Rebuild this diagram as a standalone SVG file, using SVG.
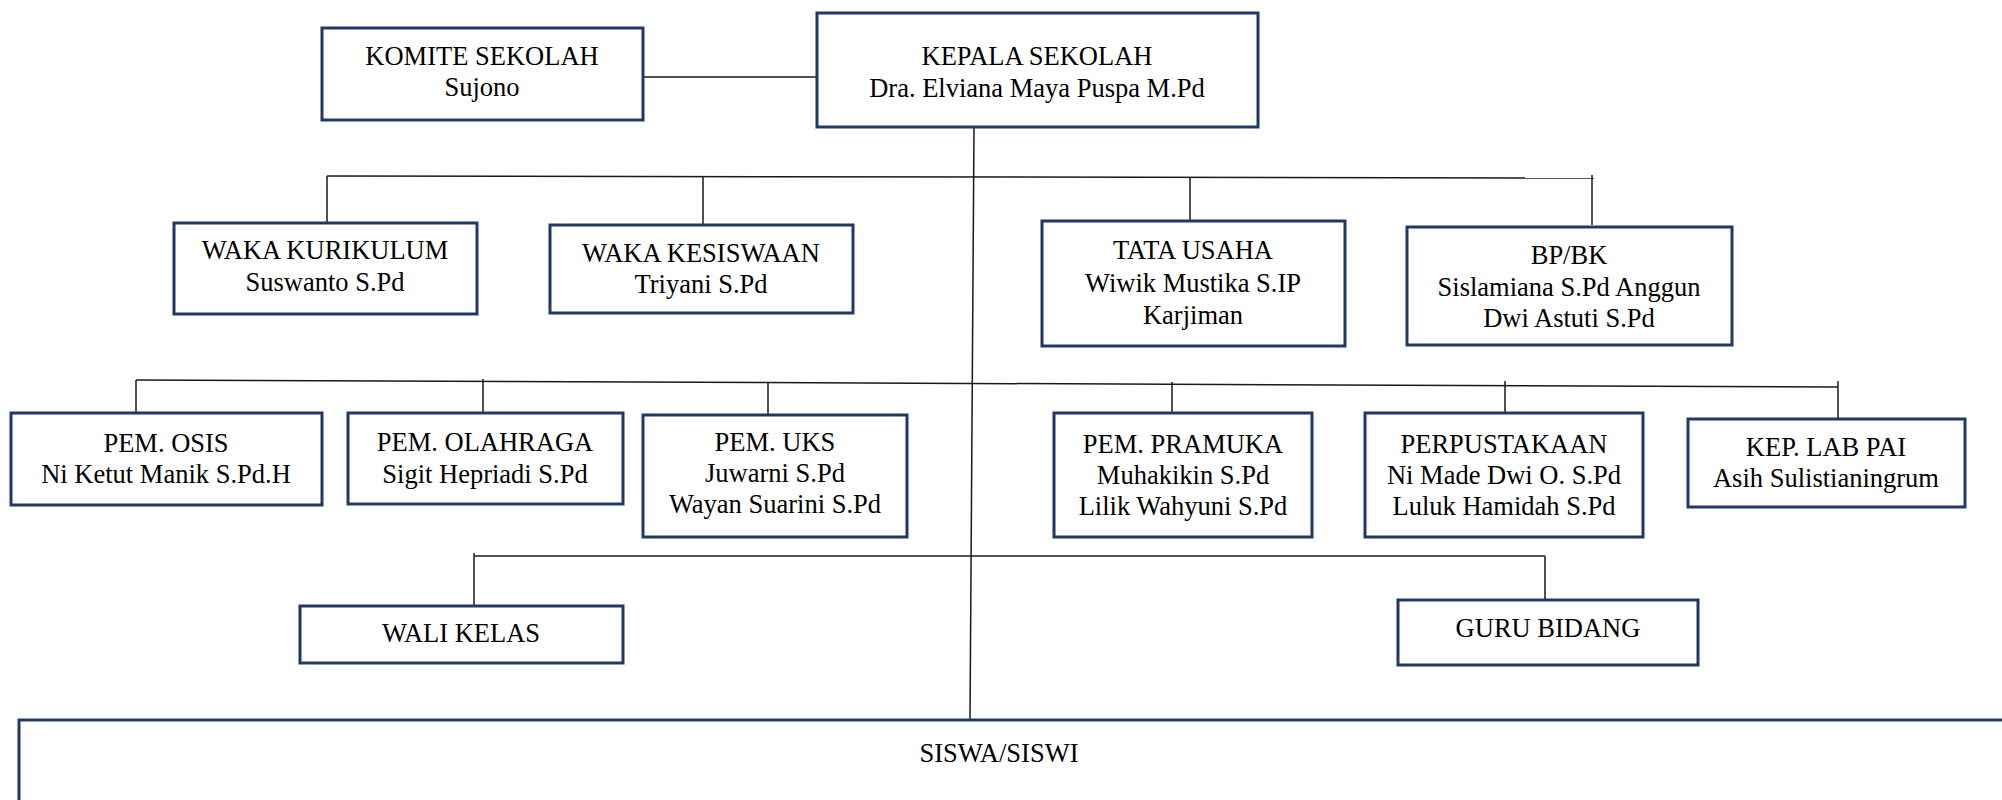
<svg xmlns="http://www.w3.org/2000/svg" width="2002" height="800" viewBox="0 0 2002 800">
<style>
.box{fill:#fff;stroke:#1f3864;stroke-width:3}
.ln{stroke:#1a1a1a;stroke-width:1.5;fill:none}
text{font-family:"Liberation Serif","Times New Roman",serif;font-size:26.5px;fill:#000;text-anchor:middle}
</style>
<rect width="2002" height="800" fill="#fff"/>
<g id="connectors">
<line class="ln" x1="643" y1="77" x2="817" y2="77"/>
<line class="ln" x1="974" y1="127" x2="970" y2="720"/>
<line class="ln" x1="327" y1="176" x2="1594" y2="178"/>
<line class="ln" x1="327" y1="176" x2="327" y2="223"/>
<line class="ln" x1="703" y1="176" x2="703" y2="224"/>
<line class="ln" x1="1190" y1="177" x2="1190" y2="221"/>
<line class="ln" x1="1592" y1="175" x2="1592" y2="225"/>
<line class="ln" x1="136" y1="380" x2="1838" y2="387"/>
<line class="ln" x1="136" y1="380" x2="136" y2="413"/>
<line class="ln" x1="483" y1="379" x2="483" y2="413"/>
<line class="ln" x1="768" y1="382" x2="768" y2="415"/>
<line class="ln" x1="1172" y1="382" x2="1172" y2="413"/>
<line class="ln" x1="1505" y1="381" x2="1505" y2="413"/>
<line class="ln" x1="1838" y1="381" x2="1838" y2="419"/>
<line class="ln" x1="474" y1="556" x2="1545" y2="556"/>
<line class="ln" x1="474" y1="553" x2="474" y2="606"/>
<line class="ln" x1="1545" y1="556" x2="1545" y2="604"/>
</g>
<g id="komite"><rect class="box" x="322" y="28" width="321" height="92"/><text x="482" y="65">KOMITE SEKOLAH</text><text x="482" y="96">Sujono</text></g>
<g id="kepala"><rect class="box" x="817" y="13" width="441" height="114"/><text x="1037" y="65">KEPALA SEKOLAH</text><text x="1037" y="97">Dra. Elviana Maya Puspa M.Pd</text></g>
<g id="waka-kurikulum"><rect class="box" x="174" y="223" width="303" height="91"/><text x="325" y="259">WAKA KURIKULUM</text><text x="325" y="291">Suswanto S.Pd</text></g>
<g id="waka-kesiswaan"><rect class="box" x="550" y="225" width="303" height="88"/><text x="701" y="262">WAKA KESISWAAN</text><text x="701" y="293">Triyani S.Pd</text></g>
<g id="tata-usaha"><rect class="box" x="1042" y="221" width="303" height="125"/><text x="1193" y="259">TATA USAHA</text><text x="1193" y="292">Wiwik Mustika S.IP</text><text x="1193" y="324">Karjiman</text></g>
<g id="bpbk"><rect class="box" x="1407" y="227" width="325" height="118"/><text x="1569" y="264">BP/BK</text><text x="1569" y="296">Sislamiana S.Pd Anggun</text><text x="1569" y="327">Dwi Astuti S.Pd</text></g>
<g id="pem-osis"><rect class="box" x="11" y="413" width="311" height="92"/><text x="166" y="452">PEM. OSIS</text><text x="166" y="483">Ni Ketut Manik S.Pd.H</text></g>
<g id="pem-olahraga"><rect class="box" x="348" y="413" width="275" height="91"/><text x="485" y="451">PEM. OLAHRAGA</text><text x="485" y="483">Sigit Hepriadi S.Pd</text></g>
<g id="pem-uks"><rect class="box" x="643" y="415" width="264" height="122"/><text x="775" y="451">PEM. UKS</text><text x="775" y="482">Juwarni S.Pd</text><text x="775" y="513">Wayan Suarini S.Pd</text></g>
<g id="pem-pramuka"><rect class="box" x="1054" y="413" width="258" height="124"/><text x="1183" y="453">PEM. PRAMUKA</text><text x="1183" y="484">Muhakikin S.Pd</text><text x="1183" y="515">Lilik Wahyuni S.Pd</text></g>
<g id="perpustakaan"><rect class="box" x="1365" y="413" width="278" height="124"/><text x="1504" y="453">PERPUSTAKAAN</text><text x="1504" y="484">Ni Made Dwi O. S.Pd</text><text x="1504" y="515">Luluk Hamidah S.Pd</text></g>
<g id="lab-pai"><rect class="box" x="1688" y="419" width="277" height="88"/><text x="1826" y="456">KEP. LAB PAI</text><text x="1826" y="487">Asih Sulistianingrum</text></g>
<g id="wali-kelas"><rect class="box" x="300" y="606" width="323" height="57"/><text x="461" y="642">WALI KELAS</text></g>
<g id="guru-bidang"><rect class="box" x="1398" y="600" width="300" height="65"/><text x="1548" y="637">GURU BIDANG</text></g>
<g id="siswa"><rect class="box" x="19" y="720" width="2010" height="120"/><text x="999" y="762">SISWA/SISWI</text></g>
</svg>
